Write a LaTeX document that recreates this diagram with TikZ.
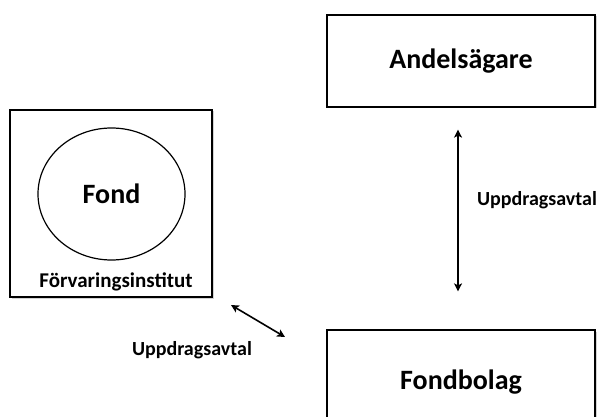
\documentclass[tikz,border=0pt]{standalone}
\usepackage{fontspec}
\setmainfont{Carlito}
\usepackage{tikz}
\usetikzlibrary{arrows.meta,positioning,shapes.geometric,shadows}
\tikzset{
  box/.style={draw,line width=1.2pt,fill=white,minimum width=268pt,minimum height=92pt,
    font=\fontsize{28}{32}\selectfont\bfseries,
    drop shadow={opacity=0.35,shadow xshift=1.5pt,shadow yshift=-1.5pt}},
  lbl/.style={font=\fontsize{20}{24}\selectfont\bfseries},
  darr/.style={{Stealth[length=8pt,width=8pt,inset=2pt]}-{Stealth[length=8pt,width=8pt,inset=2pt]},line width=1.6pt},
}

\begin{document}
\begin{tikzpicture}[x=1pt,y=-1pt]
\useasboundingbox (0,0) rectangle (602,417);
\node[box] (andel) at (461,61) {Andelsägare};
\node[box,minimum height=104pt] (bolag) at (461,382) {Fondbolag};
\node[box,minimum width=202pt,minimum height=187pt] (fbox) at (111,203.5) {};
\node[draw,ellipse,line width=1.2pt,minimum width=147pt,minimum height=132pt,
  font=\fontsize{28}{32}\selectfont\bfseries] (fond) at (111.5,194) {Fond};
\node[font=\fontsize{21}{24}\selectfont\bfseries] (forv) at (116,282) {Förvaringsinstitut};
\draw[darr,shorten <=22pt,shorten >=38pt] (andel.south -| 458,0) -- (bolag.north -| 458,0);
\coordinate (d1) at (231,305);
\coordinate (d2) at (285,337);
\draw[darr] (d1) -- (d2);
\node[lbl] (u1) at (537,200) {Uppdragsavtal};
\node[lbl] (u2) at (192,350) {Uppdragsavtal};
\end{tikzpicture}
\end{document}
